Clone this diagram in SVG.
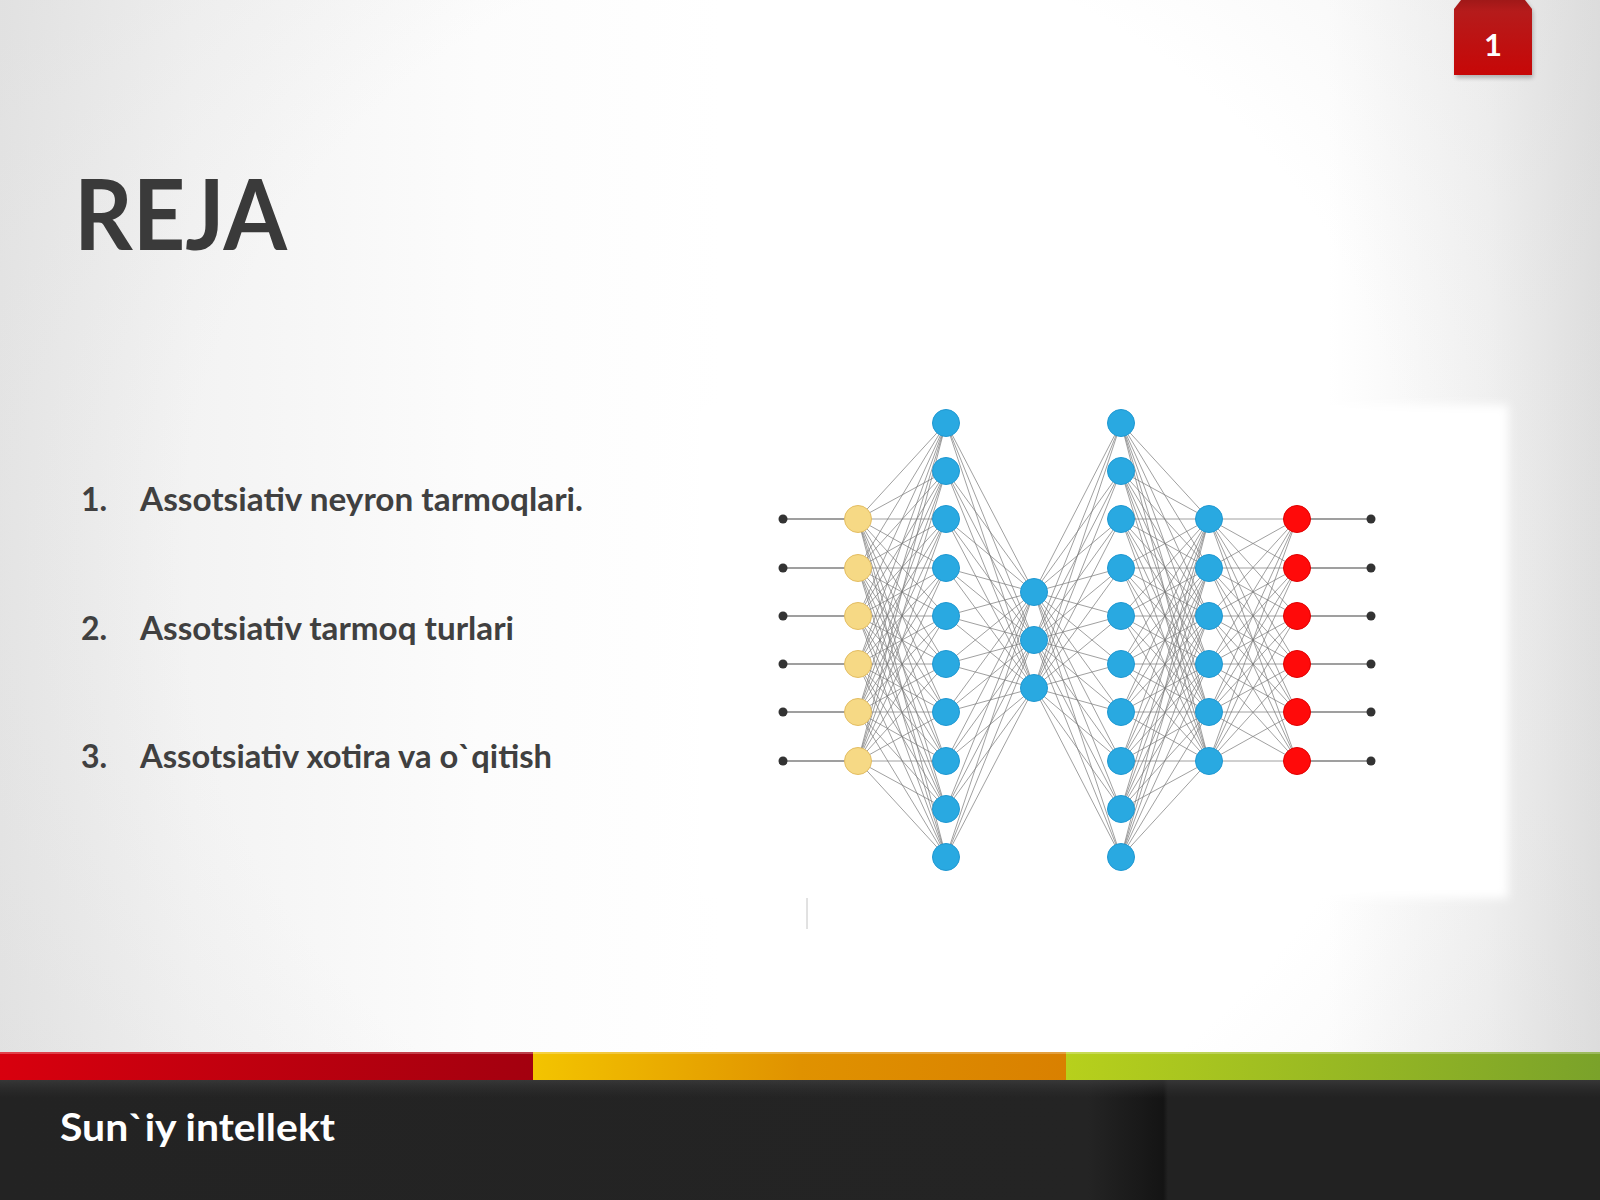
<svg xmlns="http://www.w3.org/2000/svg" width="1600" height="1200" viewBox="0 0 1600 1200">
<defs>
<linearGradient id="bgh" x1="0" y1="0" x2="1600" y2="0" gradientUnits="userSpaceOnUse">
<stop offset="0" stop-color="#e7e7e7"/>
<stop offset="0.12" stop-color="#f3f3f3"/>
<stop offset="0.3" stop-color="#fcfcfc"/>
<stop offset="0.45" stop-color="#ffffff"/>
<stop offset="0.83" stop-color="#ffffff"/>
<stop offset="0.93" stop-color="#f2f2f2"/>
<stop offset="1" stop-color="#e0e0e0"/>
</linearGradient>
<radialGradient id="vig" cx="800" cy="560" r="950" gradientUnits="userSpaceOnUse">
<stop offset="0.65" stop-color="#d0d0d0" stop-opacity="0"/>
<stop offset="1" stop-color="#d0d0d0" stop-opacity="0.25"/>
</radialGradient>
<filter id="soft" x="-10%" y="-10%" width="120%" height="120%"><feGaussianBlur stdDeviation="5"/></filter>
<filter id="shadow" x="-30%" y="-30%" width="160%" height="160%"><feGaussianBlur stdDeviation="2"/></filter>
<linearGradient id="red" x1="0" y1="0" x2="1" y2="0">
<stop offset="0" stop-color="#d8000e"/><stop offset="1" stop-color="#a3000f"/>
</linearGradient>
<linearGradient id="yel" x1="0" y1="0" x2="1" y2="0">
<stop offset="0" stop-color="#f3c400"/><stop offset="0.5" stop-color="#e09200"/><stop offset="1" stop-color="#d98000"/>
</linearGradient>
<linearGradient id="grn" x1="0" y1="0" x2="1" y2="0">
<stop offset="0" stop-color="#b7d01c"/><stop offset="1" stop-color="#7aa22a"/>
</linearGradient>
<linearGradient id="dark" x1="0" y1="0" x2="1" y2="0">
<stop offset="0" stop-color="#232323"/><stop offset="0.68" stop-color="#242424"/><stop offset="0.71" stop-color="#1a1a1a"/><stop offset="0.727" stop-color="#141414"/><stop offset="0.73" stop-color="#222222"/><stop offset="1" stop-color="#222222"/>
</linearGradient>
<linearGradient id="darkv" x1="0" y1="0" x2="0" y2="1">
<stop offset="0" stop-color="#444" stop-opacity="0.6"/><stop offset="0.15" stop-color="#333" stop-opacity="0"/>
</linearGradient>
<linearGradient id="badge" x1="0" y1="0" x2="0" y2="1">
<stop offset="0" stop-color="#a01818"/><stop offset="0.15" stop-color="#b51b1b"/><stop offset="1" stop-color="#c70707"/>
</linearGradient>
<style>
.edge{fill:none;stroke:#777777;stroke-width:1;stroke-opacity:0.7}
.io{fill:none;stroke:#808080;stroke-width:1.6}
.dot{fill:#333333}
.yel{fill:#f6d985;stroke:#e3bd62;stroke-width:1}
.blu{fill:#29a9e1;stroke:#1f98d2;stroke-width:1}
.red{fill:#ff0a0a;stroke:#e00000;stroke-width:1}
.t{font-family:Lato,"Open Sans","DejaVu Sans",sans-serif;font-weight:bold}
</style>
</defs>

<rect width="1600" height="1200" fill="url(#bgh)"/>
<rect width="1600" height="1200" fill="url(#vig)"/>
<rect x="700" y="405" width="808" height="493" fill="#ffffff" filter="url(#soft)"/>
<line x1="807" y1="898" x2="807" y2="929" stroke="#c4c4c4" stroke-width="1"/>

<g id="title"><text class="t" x="74" y="250" font-size="97" fill="#3a3a3a" textLength="213" lengthAdjust="spacingAndGlyphs">REJA</text></g>

<g id="list" class="t" fill="#404040" font-size="32">
<g id="item1"><text x="81" y="511">1.</text><text x="140" y="511" textLength="443" lengthAdjust="spacingAndGlyphs">Assotsiativ neyron tarmoqlari.</text></g>
<g id="item2"><text x="81" y="640">2.</text><text x="140" y="640" textLength="374" lengthAdjust="spacingAndGlyphs">Assotsiativ tarmoq turlari</text></g>
<g id="item3"><text x="81" y="768">3.</text><text x="140" y="768" textLength="412" lengthAdjust="spacingAndGlyphs">Assotsiativ xotira va o`qitish</text></g>
</g>

<g id="connectors">
<path class="io" d="M783 519L858 519M783 568L858 568M783 616L858 616M783 664L858 664M783 712L858 712M783 761L858 761M1297 519L1371 519M1297 568L1371 568M1297 616L1371 616M1297 664L1371 664M1297 712L1371 712M1297 761L1371 761"/>
<path class="edge" d="M858 519L946 423M858 519L946 471M858 519L946 519M858 519L946 568M858 519L946 616M858 519L946 664M858 519L946 712M858 519L946 761M858 519L946 809M858 519L946 857M858 568L946 423M858 568L946 471M858 568L946 519M858 568L946 568M858 568L946 616M858 568L946 664M858 568L946 712M858 568L946 761M858 568L946 809M858 568L946 857M858 616L946 423M858 616L946 471M858 616L946 519M858 616L946 568M858 616L946 616M858 616L946 664M858 616L946 712M858 616L946 761M858 616L946 809M858 616L946 857M858 664L946 423M858 664L946 471M858 664L946 519M858 664L946 568M858 664L946 616M858 664L946 664M858 664L946 712M858 664L946 761M858 664L946 809M858 664L946 857M858 712L946 423M858 712L946 471M858 712L946 519M858 712L946 568M858 712L946 616M858 712L946 664M858 712L946 712M858 712L946 761M858 712L946 809M858 712L946 857M858 761L946 423M858 761L946 471M858 761L946 519M858 761L946 568M858 761L946 616M858 761L946 664M858 761L946 712M858 761L946 761M858 761L946 809M858 761L946 857"/>
<path class="edge" d="M946 423L1034 592M946 423L1034 640M946 423L1034 688M946 471L1034 592M946 471L1034 640M946 471L1034 688M946 519L1034 592M946 519L1034 640M946 519L1034 688M946 568L1034 592M946 568L1034 640M946 568L1034 688M946 616L1034 592M946 616L1034 640M946 616L1034 688M946 664L1034 592M946 664L1034 640M946 664L1034 688M946 712L1034 592M946 712L1034 640M946 712L1034 688M946 761L1034 592M946 761L1034 640M946 761L1034 688M946 809L1034 592M946 809L1034 640M946 809L1034 688M946 857L1034 592M946 857L1034 640M946 857L1034 688"/>
<path class="edge" d="M1121 423L1034 592M1121 423L1034 640M1121 423L1034 688M1121 471L1034 592M1121 471L1034 640M1121 471L1034 688M1121 519L1034 592M1121 519L1034 640M1121 519L1034 688M1121 568L1034 592M1121 568L1034 640M1121 568L1034 688M1121 616L1034 592M1121 616L1034 640M1121 616L1034 688M1121 664L1034 592M1121 664L1034 640M1121 664L1034 688M1121 712L1034 592M1121 712L1034 640M1121 712L1034 688M1121 761L1034 592M1121 761L1034 640M1121 761L1034 688M1121 809L1034 592M1121 809L1034 640M1121 809L1034 688M1121 857L1034 592M1121 857L1034 640M1121 857L1034 688"/>
<path class="edge" d="M1209 519L1121 423M1209 519L1121 471M1209 519L1121 519M1209 519L1121 568M1209 519L1121 616M1209 519L1121 664M1209 519L1121 712M1209 519L1121 761M1209 519L1121 809M1209 519L1121 857M1209 568L1121 423M1209 568L1121 471M1209 568L1121 519M1209 568L1121 568M1209 568L1121 616M1209 568L1121 664M1209 568L1121 712M1209 568L1121 761M1209 568L1121 809M1209 568L1121 857M1209 616L1121 423M1209 616L1121 471M1209 616L1121 519M1209 616L1121 568M1209 616L1121 616M1209 616L1121 664M1209 616L1121 712M1209 616L1121 761M1209 616L1121 809M1209 616L1121 857M1209 664L1121 423M1209 664L1121 471M1209 664L1121 519M1209 664L1121 568M1209 664L1121 616M1209 664L1121 664M1209 664L1121 712M1209 664L1121 761M1209 664L1121 809M1209 664L1121 857M1209 712L1121 423M1209 712L1121 471M1209 712L1121 519M1209 712L1121 568M1209 712L1121 616M1209 712L1121 664M1209 712L1121 712M1209 712L1121 761M1209 712L1121 809M1209 712L1121 857M1209 761L1121 423M1209 761L1121 471M1209 761L1121 519M1209 761L1121 568M1209 761L1121 616M1209 761L1121 664M1209 761L1121 712M1209 761L1121 761M1209 761L1121 809M1209 761L1121 857"/>
<path class="edge" d="M1209 519L1297 519M1209 519L1297 568M1209 519L1297 616M1209 519L1297 664M1209 519L1297 712M1209 519L1297 761M1209 568L1297 519M1209 568L1297 568M1209 568L1297 616M1209 568L1297 664M1209 568L1297 712M1209 568L1297 761M1209 616L1297 519M1209 616L1297 568M1209 616L1297 616M1209 616L1297 664M1209 616L1297 712M1209 616L1297 761M1209 664L1297 519M1209 664L1297 568M1209 664L1297 616M1209 664L1297 664M1209 664L1297 712M1209 664L1297 761M1209 712L1297 519M1209 712L1297 568M1209 712L1297 616M1209 712L1297 664M1209 712L1297 712M1209 712L1297 761M1209 761L1297 519M1209 761L1297 568M1209 761L1297 616M1209 761L1297 664M1209 761L1297 712M1209 761L1297 761"/>
</g>

<g id="inputs">
<g id="in1"><circle class="dot" cx="783" cy="519" r="4.5"/></g>
<g id="in2"><circle class="dot" cx="783" cy="568" r="4.5"/></g>
<g id="in3"><circle class="dot" cx="783" cy="616" r="4.5"/></g>
<g id="in4"><circle class="dot" cx="783" cy="664" r="4.5"/></g>
<g id="in5"><circle class="dot" cx="783" cy="712" r="4.5"/></g>
<g id="in6"><circle class="dot" cx="783" cy="761" r="4.5"/></g>
</g>
<g id="layer1">
<g id="y1"><circle class="yel" cx="858" cy="519" r="13.5"/></g>
<g id="y2"><circle class="yel" cx="858" cy="568" r="13.5"/></g>
<g id="y3"><circle class="yel" cx="858" cy="616" r="13.5"/></g>
<g id="y4"><circle class="yel" cx="858" cy="664" r="13.5"/></g>
<g id="y5"><circle class="yel" cx="858" cy="712" r="13.5"/></g>
<g id="y6"><circle class="yel" cx="858" cy="761" r="13.5"/></g>
</g>
<g id="layer2">
<g id="a1"><circle class="blu" cx="946" cy="423" r="13.5"/></g>
<g id="a2"><circle class="blu" cx="946" cy="471" r="13.5"/></g>
<g id="a3"><circle class="blu" cx="946" cy="519" r="13.5"/></g>
<g id="a4"><circle class="blu" cx="946" cy="568" r="13.5"/></g>
<g id="a5"><circle class="blu" cx="946" cy="616" r="13.5"/></g>
<g id="a6"><circle class="blu" cx="946" cy="664" r="13.5"/></g>
<g id="a7"><circle class="blu" cx="946" cy="712" r="13.5"/></g>
<g id="a8"><circle class="blu" cx="946" cy="761" r="13.5"/></g>
<g id="a9"><circle class="blu" cx="946" cy="809" r="13.5"/></g>
<g id="a10"><circle class="blu" cx="946" cy="857" r="13.5"/></g>
</g>
<g id="layer3">
<g id="m1"><circle class="blu" cx="1034" cy="592" r="13.5"/></g>
<g id="m2"><circle class="blu" cx="1034" cy="640" r="13.5"/></g>
<g id="m3"><circle class="blu" cx="1034" cy="688" r="13.5"/></g>
</g>
<g id="layer4">
<g id="b1"><circle class="blu" cx="1121" cy="423" r="13.5"/></g>
<g id="b2"><circle class="blu" cx="1121" cy="471" r="13.5"/></g>
<g id="b3"><circle class="blu" cx="1121" cy="519" r="13.5"/></g>
<g id="b4"><circle class="blu" cx="1121" cy="568" r="13.5"/></g>
<g id="b5"><circle class="blu" cx="1121" cy="616" r="13.5"/></g>
<g id="b6"><circle class="blu" cx="1121" cy="664" r="13.5"/></g>
<g id="b7"><circle class="blu" cx="1121" cy="712" r="13.5"/></g>
<g id="b8"><circle class="blu" cx="1121" cy="761" r="13.5"/></g>
<g id="b9"><circle class="blu" cx="1121" cy="809" r="13.5"/></g>
<g id="b10"><circle class="blu" cx="1121" cy="857" r="13.5"/></g>
</g>
<g id="layer5">
<g id="c1"><circle class="blu" cx="1209" cy="519" r="13.5"/></g>
<g id="c2"><circle class="blu" cx="1209" cy="568" r="13.5"/></g>
<g id="c3"><circle class="blu" cx="1209" cy="616" r="13.5"/></g>
<g id="c4"><circle class="blu" cx="1209" cy="664" r="13.5"/></g>
<g id="c5"><circle class="blu" cx="1209" cy="712" r="13.5"/></g>
<g id="c6"><circle class="blu" cx="1209" cy="761" r="13.5"/></g>
</g>
<g id="layer6">
<g id="r1"><circle class="red" cx="1297" cy="519" r="13.5"/></g>
<g id="r2"><circle class="red" cx="1297" cy="568" r="13.5"/></g>
<g id="r3"><circle class="red" cx="1297" cy="616" r="13.5"/></g>
<g id="r4"><circle class="red" cx="1297" cy="664" r="13.5"/></g>
<g id="r5"><circle class="red" cx="1297" cy="712" r="13.5"/></g>
<g id="r6"><circle class="red" cx="1297" cy="761" r="13.5"/></g>
</g>
<g id="outputs">
<g id="out1"><circle class="dot" cx="1371" cy="519" r="4.5"/></g>
<g id="out2"><circle class="dot" cx="1371" cy="568" r="4.5"/></g>
<g id="out3"><circle class="dot" cx="1371" cy="616" r="4.5"/></g>
<g id="out4"><circle class="dot" cx="1371" cy="664" r="4.5"/></g>
<g id="out5"><circle class="dot" cx="1371" cy="712" r="4.5"/></g>
<g id="out6"><circle class="dot" cx="1371" cy="761" r="4.5"/></g>
</g>

<g id="badge">
<path d="M1456 12L1462 2L1526 2L1533 12L1533 78L1456 78Z" fill="#000" opacity="0.25" filter="url(#shadow)"/>
<path d="M1454 9L1461 0L1525 0L1532 9L1532 75L1454 75Z" fill="url(#badge)"/>
<text class="t" x="1493" y="56" font-size="31" fill="#ffffff" text-anchor="middle">1</text>
</g>

<g id="footer">
<rect x="0" y="1080" width="1600" height="120" fill="url(#dark)"/>
<rect x="0" y="1080" width="1600" height="120" fill="url(#darkv)"/>
<rect x="0" y="1052" width="533" height="28" fill="url(#red)"/>
<rect x="533" y="1052" width="533" height="28" fill="url(#yel)"/>
<rect x="1066" y="1052" width="534" height="28" fill="url(#grn)"/>
<rect x="0" y="1052" width="1600" height="2" fill="#ffffff" opacity="0.25"/>
<text class="t" x="60" y="1141" font-size="38" fill="#ffffff" textLength="275" lengthAdjust="spacingAndGlyphs">Sun`iy intellekt</text>
</g>
</svg>
